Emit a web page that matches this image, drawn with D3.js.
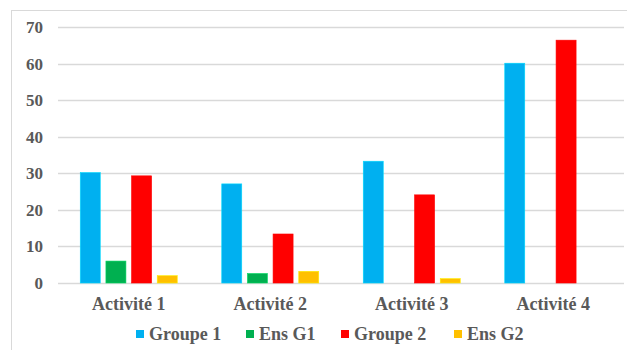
<!DOCTYPE html>
<html>
<head>
<meta charset="utf-8">
<script src="https://cdn.jsdelivr.net/npm/d3@7"></script>
<style>
  body { margin: 0; background: #fff; }
</style>
</head>
<body>
<div id="chart-area"></div>
<script>
const categories = ["Activité 1", "Activité 2", "Activité 3", "Activité 4"]
const series = ["Groupe 1", "Ens G1", "Groupe 2", "Ens G2"]
const groupe1 = [30.2, 27.1, 33.3, 60.1]
const ensG1 = [6.0, 2.6, 0, 0]
const groupe2 = [29.3, 13.4, 24.1, 66.4]
const ensG2 = [2.0, 3.2, 1.2, 0]
const yTicks = [0, 10, 20, 30, 40, 50, 60, 70]
const colors = ["#00b0f0", "#00b050", "#ff0000", "#ffc000"]

const values = [groupe1, ensG1, groupe2, ensG2]
const FONT = "'Liberation Serif', 'DejaVu Serif', 'Times New Roman', serif"

const W = 627, H = 350
const MARGIN = { LEFT: 58, RIGHT: 3, TOP: 27, BOTTOM: 67 }
const WIDTH = W - MARGIN.LEFT - MARGIN.RIGHT
const HEIGHT = H - MARGIN.TOP - MARGIN.BOTTOM

const svg = d3.select("#chart-area").append("svg")
  .attr("width", W)
  .attr("height", H)
  .attr("font-family", FONT)
  .attr("font-weight", "bold")

// chart area border
svg.append("rect")
  .attr("x", 11.5).attr("y", 10.5)
  .attr("width", 640).attr("height", 360)
  .attr("fill", "none")
  .attr("stroke", "#d9d9d9")

const g = svg.append("g")
  .attr("transform", `translate(${MARGIN.LEFT}, ${MARGIN.TOP})`)

const y = d3.scaleLinear()
  .domain([0, 70])
  .range([HEIGHT, 0])

const x0 = d3.scaleBand()
  .domain(categories)
  .range([0, WIDTH])

const x1 = d3.scaleBand()
  .domain(series)
  .range([x0.bandwidth() / 2 - 48.5, x0.bandwidth() / 2 + 48.5])
  .paddingInner(0.22)

// gridlines
g.selectAll(".grid")
  .data(yTicks)
  .enter().append("line")
  .attr("x1", 0).attr("x2", WIDTH)
  .attr("y1", d => Math.round(y(d)) + 0.5)
  .attr("y2", d => Math.round(y(d)) + 0.5)
  .attr("stroke", "#d9d9d9")
  .attr("stroke-width", 1.5)

// y labels
g.selectAll(".ytick")
  .data(yTicks)
  .enter().append("text")
  .attr("x", -15)
  .attr("y", d => y(d) + 6)
  .attr("text-anchor", "end")
  .attr("font-size", "17px")
  .attr("fill", "#595959")
  .text(d => d)

// bars
const groups = g.selectAll(".cat")
  .data(categories)
  .enter().append("g")
  .attr("transform", d => `translate(${x0(d)}, 0)`)

groups.selectAll("rect")
  .data((d, i) => series.map((s, j) => ({ s, v: values[j][i], c: colors[j] })))
  .enter().append("rect")
  .attr("x", d => x1(d.s))
  .attr("width", x1.bandwidth())
  .attr("y", d => y(d.v))
  .attr("height", d => HEIGHT - y(d.v))
  .attr("fill", d => d.c)
  .attr("stroke", d => d3.color(d.c).brighter(0.6))
  .attr("stroke-width", d => d.v > 0 ? 0.6 : 0)

// category labels
g.selectAll(".xlabel")
  .data(categories)
  .enter().append("text")
  .attr("x", d => x0(d) + x0.bandwidth() / 2)
  .attr("y", HEIGHT + 27)
  .attr("text-anchor", "middle")
  .attr("font-size", "18px")
  .attr("fill", "#595959")
  .text(d => d)

// legend
const legendX = [136, 246, 341, 454]
const legend = svg.selectAll(".legend")
  .data(series)
  .enter().append("g")
  .attr("transform", (d, i) => `translate(${legendX[i]}, 329)`)

legend.append("rect")
  .attr("width", 8).attr("height", 8)
  .attr("y", 1)
  .attr("fill", (d, i) => colors[i])

legend.append("text")
  .attr("x", 13)
  .attr("y", 10.5)
  .attr("font-size", "18px")
  .attr("fill", "#595959")
  .text(d => d)
</script>
</body>
</html>
